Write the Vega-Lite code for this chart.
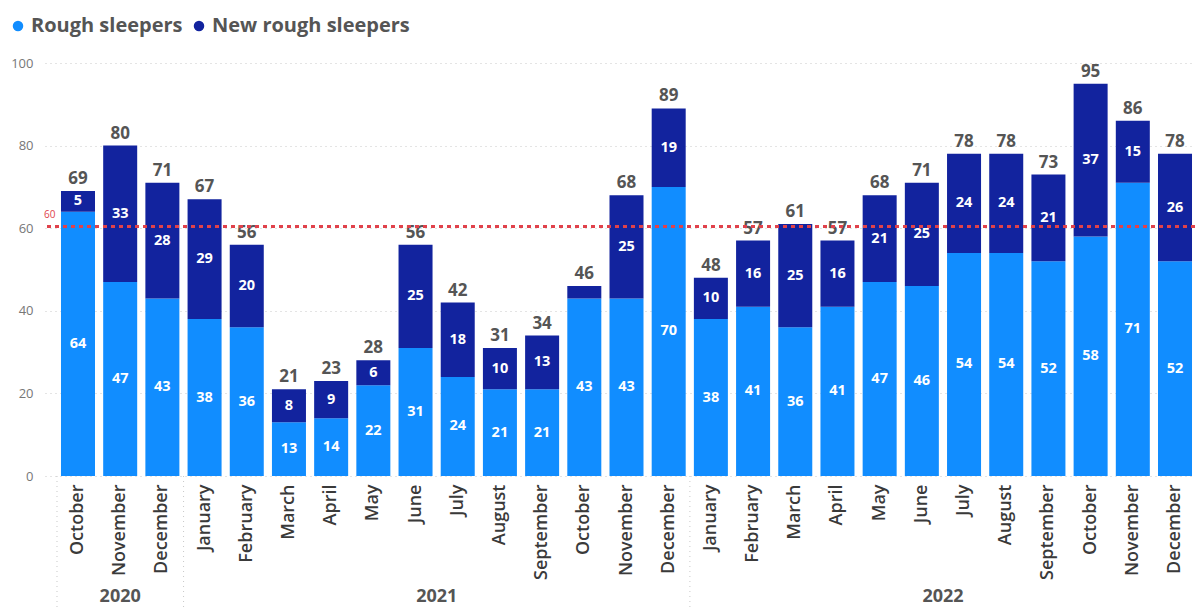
{
  "$schema": "https://vega.github.io/schema/vega-lite/v6.json",
  "width": 1150,
  "height": 413,
  "autosize": {"type": "none"},
  "padding": {"left": 45, "top": 63, "right": 0, "bottom": 132},
  "background": "white",
  "config": {"font": "Open Sans", "view": {"stroke": null}},
  "data": {
    "values": [
      {"key": "October 2020", "month": "October", "year": "2020", "series": "Rough sleepers", "value": 64},
      {"key": "October 2020", "month": "October", "year": "2020", "series": "New rough sleepers", "value": 5},
      {"key": "November 2020", "month": "November", "year": "2020", "series": "Rough sleepers", "value": 47},
      {"key": "November 2020", "month": "November", "year": "2020", "series": "New rough sleepers", "value": 33},
      {"key": "December 2020", "month": "December", "year": "2020", "series": "Rough sleepers", "value": 43},
      {"key": "December 2020", "month": "December", "year": "2020", "series": "New rough sleepers", "value": 28},
      {"key": "January 2021", "month": "January", "year": "2021", "series": "Rough sleepers", "value": 38},
      {"key": "January 2021", "month": "January", "year": "2021", "series": "New rough sleepers", "value": 29},
      {"key": "February 2021", "month": "February", "year": "2021", "series": "Rough sleepers", "value": 36},
      {"key": "February 2021", "month": "February", "year": "2021", "series": "New rough sleepers", "value": 20},
      {"key": "March 2021", "month": "March", "year": "2021", "series": "Rough sleepers", "value": 13},
      {"key": "March 2021", "month": "March", "year": "2021", "series": "New rough sleepers", "value": 8},
      {"key": "April 2021", "month": "April", "year": "2021", "series": "Rough sleepers", "value": 14},
      {"key": "April 2021", "month": "April", "year": "2021", "series": "New rough sleepers", "value": 9},
      {"key": "May 2021", "month": "May", "year": "2021", "series": "Rough sleepers", "value": 22},
      {"key": "May 2021", "month": "May", "year": "2021", "series": "New rough sleepers", "value": 6},
      {"key": "June 2021", "month": "June", "year": "2021", "series": "Rough sleepers", "value": 31},
      {"key": "June 2021", "month": "June", "year": "2021", "series": "New rough sleepers", "value": 25},
      {"key": "July 2021", "month": "July", "year": "2021", "series": "Rough sleepers", "value": 24},
      {"key": "July 2021", "month": "July", "year": "2021", "series": "New rough sleepers", "value": 18},
      {"key": "August 2021", "month": "August", "year": "2021", "series": "Rough sleepers", "value": 21},
      {"key": "August 2021", "month": "August", "year": "2021", "series": "New rough sleepers", "value": 10},
      {"key": "September 2021", "month": "September", "year": "2021", "series": "Rough sleepers", "value": 21},
      {"key": "September 2021", "month": "September", "year": "2021", "series": "New rough sleepers", "value": 13},
      {"key": "October 2021", "month": "October", "year": "2021", "series": "Rough sleepers", "value": 43},
      {"key": "October 2021", "month": "October", "year": "2021", "series": "New rough sleepers", "value": 3},
      {"key": "November 2021", "month": "November", "year": "2021", "series": "Rough sleepers", "value": 43},
      {"key": "November 2021", "month": "November", "year": "2021", "series": "New rough sleepers", "value": 25},
      {"key": "December 2021", "month": "December", "year": "2021", "series": "Rough sleepers", "value": 70},
      {"key": "December 2021", "month": "December", "year": "2021", "series": "New rough sleepers", "value": 19},
      {"key": "January 2022", "month": "January", "year": "2022", "series": "Rough sleepers", "value": 38},
      {"key": "January 2022", "month": "January", "year": "2022", "series": "New rough sleepers", "value": 10},
      {"key": "February 2022", "month": "February", "year": "2022", "series": "Rough sleepers", "value": 41},
      {"key": "February 2022", "month": "February", "year": "2022", "series": "New rough sleepers", "value": 16},
      {"key": "March 2022", "month": "March", "year": "2022", "series": "Rough sleepers", "value": 36},
      {"key": "March 2022", "month": "March", "year": "2022", "series": "New rough sleepers", "value": 25},
      {"key": "April 2022", "month": "April", "year": "2022", "series": "Rough sleepers", "value": 41},
      {"key": "April 2022", "month": "April", "year": "2022", "series": "New rough sleepers", "value": 16},
      {"key": "May 2022", "month": "May", "year": "2022", "series": "Rough sleepers", "value": 47},
      {"key": "May 2022", "month": "May", "year": "2022", "series": "New rough sleepers", "value": 21},
      {"key": "June 2022", "month": "June", "year": "2022", "series": "Rough sleepers", "value": 46},
      {"key": "June 2022", "month": "June", "year": "2022", "series": "New rough sleepers", "value": 25},
      {"key": "July 2022", "month": "July", "year": "2022", "series": "Rough sleepers", "value": 54},
      {"key": "July 2022", "month": "July", "year": "2022", "series": "New rough sleepers", "value": 24},
      {"key": "August 2022", "month": "August", "year": "2022", "series": "Rough sleepers", "value": 54},
      {"key": "August 2022", "month": "August", "year": "2022", "series": "New rough sleepers", "value": 24},
      {"key": "September 2022", "month": "September", "year": "2022", "series": "Rough sleepers", "value": 52},
      {"key": "September 2022", "month": "September", "year": "2022", "series": "New rough sleepers", "value": 21},
      {"key": "October 2022", "month": "October", "year": "2022", "series": "Rough sleepers", "value": 58},
      {"key": "October 2022", "month": "October", "year": "2022", "series": "New rough sleepers", "value": 37},
      {"key": "November 2022", "month": "November", "year": "2022", "series": "Rough sleepers", "value": 71},
      {"key": "November 2022", "month": "November", "year": "2022", "series": "New rough sleepers", "value": 15},
      {"key": "December 2022", "month": "December", "year": "2022", "series": "Rough sleepers", "value": 52},
      {"key": "December 2022", "month": "December", "year": "2022", "series": "New rough sleepers", "value": 26}
    ]
  },
  "transform": [
    {"stack": "value", "groupby": ["key"], "sort": [{"field": "series", "order": "descending"}], "as": ["v0", "v1"]}
  ],
  "layer": [
    {
      "mark": {"type": "bar", "width": {"band": 1}},
      "encoding": {
        "x": {
          "field": "key", "type": "ordinal", "sort": null, "title": null,
          "scale": {"range": [0, 1163], "paddingInner": 0.194, "paddingOuter": 0.379},
          "axis": {
            "labelExpr": "split(datum.label, ' ')[0]",
            "labelAngle": -90, "labelAlign": "right", "labelBaseline": "middle",
            "labelFontSize": 18, "labelFontWeight": 600, "labelColor": "#3a3a3a",
            "labelPadding": 8, "ticks": false, "domain": false, "grid": false
          }
        },
        "y": {
          "field": "v0", "type": "quantitative", "title": null,
          "scale": {"domain": [0, 100], "nice": false, "zero": true},
          "axis": {
            "values": [0, 20, 40, 60, 80, 100], "labelFontSize": 13, "labelColor": "#777777",
            "labelPadding": 12, "ticks": false, "domain": false, "grid": true,
            "gridColor": "#c8c8c8", "gridDash": [1, 4], "gridWidth": 1
          }
        },
        "y2": {"field": "v1"},
        "color": {
          "field": "series", "type": "nominal",
          "scale": {"domain": ["Rough sleepers", "New rough sleepers"], "range": ["#118DFF", "#12239E"]},
          "legend": {
            "title": null, "orient": "none", "legendX": -37, "legendY": -47, "direction": "horizontal",
            "symbolType": "circle", "symbolSize": 110, "symbolStrokeWidth": 0, "labelFontSize": 20,
            "labelFontWeight": "bold", "labelColor": "#555555", "columnPadding": 6, "labelOffset": 3,
            "labelLimit": 400
          }
        }
      }
    },
    {
      "transform": [{"filter": "datum.series == 'Rough sleepers' && (datum.month == 'January' || datum.key == 'October 2020')"}],
      "mark": {"type": "rule", "xOffset": -4, "color": "#c8c8c8", "strokeDash": [1, 4], "strokeWidth": 1},
      "encoding": {
        "x": {"field": "key", "type": "ordinal", "sort": null, "bandPosition": 0},
        "y": {"datum": 0},
        "y2": {"datum": -32}
      }
    },
    {
      "transform": [
        {"filter": "datum.value >= 5"},
        {"fold": ["v0", "v1"], "as": ["edge", "pos"]}
      ],
      "mark": {"type": "text", "color": "white", "fontSize": 14.5, "fontWeight": "bold", "baseline": "middle"},
      "encoding": {
        "x": {"field": "key", "type": "ordinal", "sort": null},
        "y": {"aggregate": "mean", "field": "pos", "type": "quantitative"},
        "detail": {"field": "series"},
        "text": {"aggregate": "max", "field": "value", "type": "quantitative"}
      }
    },
    {
      "mark": {"type": "text", "color": "#555555", "fontSize": 17, "fontWeight": "bold", "baseline": "bottom", "dy": -3},
      "encoding": {
        "x": {"field": "key", "type": "ordinal", "sort": null},
        "y": {"aggregate": "sum", "field": "value", "type": "quantitative"},
        "text": {"aggregate": "sum", "field": "value", "type": "quantitative"}
      }
    },
    {
      "mark": {"type": "rule", "color": "#E0424B", "strokeDash": [4, 4], "strokeWidth": 2.5},
      "encoding": {"y": {"datum": 60.4}}
    },
    {
      "transform": [{"filter": "datum.key == 'October 2020' && datum.series == 'Rough sleepers'"}],
      "mark": {"type": "text", "text": "60", "color": "#E0424B", "fontSize": 10, "align": "left", "baseline": "middle", "dx": -17, "dy": -12},
      "encoding": {
        "x": {"field": "key", "type": "ordinal", "sort": null, "bandPosition": 0},
        "y": {"datum": 60.4}
      }
    },
    {
      "transform": [{"filter": "datum.key == 'November 2020' && datum.series == 'Rough sleepers'"}],
      "mark": {"type": "text", "color": "#555555", "fontSize": 18, "fontWeight": "bold", "baseline": "middle", "dy": 121},
      "encoding": {
        "x": {"field": "key", "type": "ordinal", "sort": null},
        "y": {"datum": 0},
        "text": {"field": "year"}
      }
    },
    {
      "transform": [{"filter": "datum.month == 'July' && datum.series == 'Rough sleepers'"}],
      "mark": {"type": "text", "color": "#555555", "fontSize": 18, "fontWeight": "bold", "baseline": "middle", "dy": 121, "dx": -4},
      "encoding": {
        "x": {"field": "key", "type": "ordinal", "sort": null, "bandPosition": 0},
        "y": {"datum": 0},
        "text": {"field": "year"}
      }
    }
  ]
}
